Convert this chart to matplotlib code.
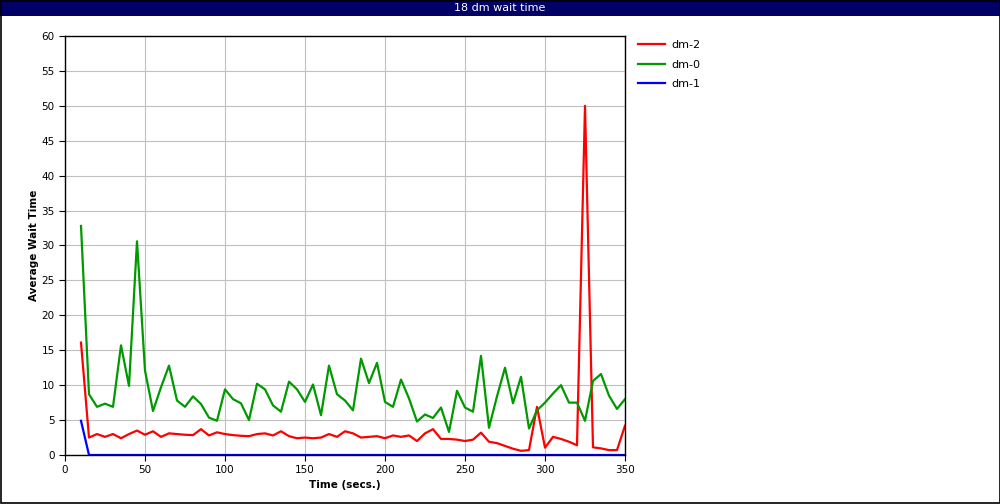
import numpy as np
import matplotlib
matplotlib.use("Agg")
import matplotlib.pyplot as plt
from matplotlib.patches import Rectangle

# sample times (secs.)
times = list(range(10, 355, 5))

dm2 = [16.1, 2.5, 3.0, 2.6, 3.0, 2.4, 3.0, 3.5, 2.9, 3.4,
       2.6, 3.1, 3.0, 2.9, 2.85, 3.7, 2.8, 3.25, 3.0, 2.85,
       2.75, 2.7, 3.0, 3.1, 2.8, 3.4, 2.7, 2.4, 2.5, 2.4,
       2.5, 3.0, 2.6, 3.4, 3.1, 2.5, 2.6, 2.7, 2.4, 2.8,
       2.6, 2.8, 2.0, 3.1, 3.7, 2.3, 2.3, 2.2, 2.0, 2.2,
       3.2, 1.9, 1.7, 1.3, 0.9, 0.6, 0.7, 6.9, 1.05, 2.6,
       2.3, 1.9, 1.4, 50.0, 1.1, 0.95, 0.7, 0.7, 4.2]

dm0 = [32.8, 8.7, 6.9, 7.35, 6.9, 15.7, 9.9, 30.6, 12.1, 6.3,
       9.7, 12.8, 7.8, 6.9, 8.4, 7.3, 5.35, 4.9, 9.4, 8.0,
       7.4, 5.0, 10.2, 9.4, 7.1, 6.2, 10.5, 9.4, 7.6, 10.1,
       5.7, 12.8, 8.7, 7.8, 6.4, 13.8, 10.3, 13.2, 7.6, 6.9,
       10.8, 8.1, 4.8, 5.8, 5.3, 6.8, 3.3, 9.2, 6.8, 6.2,
       14.2, 3.9, 8.4, 12.5, 7.4, 11.2, 3.8, 6.4, 7.5, 8.8,
       10.0, 7.5, 7.5, 4.9, 10.6, 11.6, 8.5, 6.6, 8.0]

dm1 = [4.9] + [0.0] * 68

fig = plt.figure(figsize=(10, 5.04), dpi=100)
ax = fig.add_axes([0.065, 0.0972, 0.56, 0.8314])

ax.plot(times, dm2, color="#ff0000", lw=1.6, label="dm-2")
ax.plot(times, dm0, color="#009900", lw=1.6, label="dm-0")
ax.plot(times, dm1, color="#0000ff", lw=1.6, label="dm-1")

ax.set_xlim(0, 350); ax.set_ylim(0, 60)
ax.set_xticks(range(0, 351, 50)); ax.set_yticks(range(0, 61, 5))
ax.grid(True, color="#c0c0c0", lw=0.8)
ax.set_axisbelow(True)
ax.tick_params(labelsize=7.5, length=4, direction="out", width=0.8)
for s in ax.spines.values():
    s.set_linewidth(1.0)
ax.set_xlabel("Time (secs.)", fontsize=7.5, fontweight="bold", labelpad=3)
ax.set_ylabel("Average Wait Time", fontsize=7.5, fontweight="bold", labelpad=2)

fig.legend(loc="upper left", bbox_to_anchor=(0.628, 0.94), frameon=False,
           fontsize=8, handlelength=2.4, handletextpad=0.6, labelspacing=0.85)

# title bar + outer border
fig.patches.append(Rectangle((0, 1 - 16 / 504), 1, 16 / 504, transform=fig.transFigure,
                             facecolor="#000066", edgecolor="none", zorder=5))
fig.text(0.5, 1 - 8 / 504, "18 dm wait time", color="white", fontsize=8,
         ha="center", va="center", zorder=6)
fig.patches.append(Rectangle((0.0005, 0.001), 0.999, 0.998, transform=fig.transFigure,
                             facecolor="none", edgecolor="black", lw=1.2, zorder=7))

fig.savefig("out.png", dpi=100)
